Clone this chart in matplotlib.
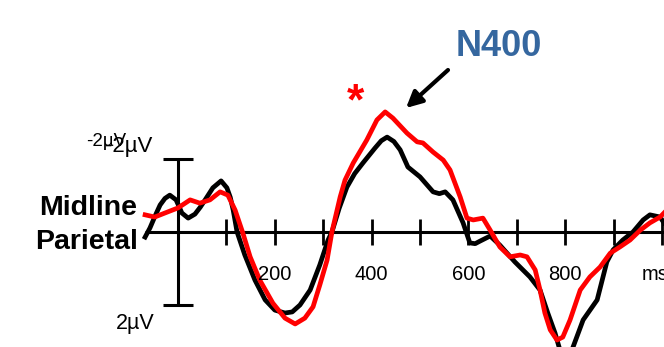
import numpy as np
import matplotlib.pyplot as plt

plt.rcParams['font.family'] = ['Liberation Sans', 'DejaVu Sans']

# ERP at midline parietal, time in ms, amplitude in microvolts (negative plotted up)
t_black = [-68, -58, -47, -37, -27, -17, -4, 8, 21, 35, 46, 56, 72, 89, 101, 108, 114,
           122, 138, 159, 180, 200, 221, 236, 252, 273, 293, 310, 318, 333, 349, 365,
           382, 407, 420, 432, 446, 459, 475, 500, 527, 540, 552, 568, 589, 603, 614,
           624, 645, 665, 696, 727, 748, 764, 779, 789, 800, 814, 837, 866, 886, 899,
           919, 940, 961, 975, 996, 1004]
v_black = [0.14, -0.11, -0.45, -0.74, -0.92, -1.01, -0.88, -0.52, -0.38, -0.49, -0.68,
           -0.88, -1.21, -1.40, -1.21, -0.95, -0.60, 0.0, 0.63, 1.32, 1.86, 2.14, 2.22,
           2.19, 2.00, 1.59, 0.90, 0.22, 0.0, -0.65, -1.23, -1.60, -1.89, -2.30, -2.50,
           -2.60, -2.48, -2.25, -1.78, -1.51, -1.10, -1.05, -1.10, -0.88, -0.25, 0.30,
           0.32, 0.25, 0.11, 0.36, 0.82, 1.23, 1.59, 2.22, 2.77, 3.23, 3.45, 3.23, 2.41,
           1.86, 0.82, 0.49, 0.22, 0.0, -0.33, -0.47, -0.41, -0.25]

t_red = [-68, -48, -27, 0, 25, 45, 66, 87, 103, 118, 134, 149, 169, 196, 221, 242,
         262, 279, 293, 308, 318, 335, 345, 362, 390, 411, 428, 444, 473, 494, 506,
         527, 548, 562, 583, 597, 610, 630, 645, 665, 686, 707, 721, 738, 748, 758,
         769, 783, 795, 810, 831, 851, 872, 893, 913, 934, 955, 975, 996, 1004]
v_red = [-0.47, -0.41, -0.52, -0.66, -0.88, -0.79, -0.88, -1.10, -1.01, -0.60, 0.03,
         0.68, 1.32, 1.95, 2.36, 2.52, 2.36, 2.05, 1.45, 0.77, 0.0, -0.96, -1.42,
         -1.89, -2.52, -3.07, -3.29, -3.12, -2.71, -2.47, -2.44, -2.19, -1.97, -1.70,
         -0.96, -0.38, -0.33, -0.38, -0.05, 0.41, 0.68, 0.63, 0.68, 1.04, 1.59, 2.22,
         2.68, 2.96, 2.88, 2.41, 1.59, 1.23, 0.96, 0.58, 0.41, 0.22, -0.05, -0.25,
         -0.41, -0.52]

tick_ms = [100, 200, 300, 400, 500, 600, 700, 800, 900, 1000]
label_ms = [200, 400, 600, 800]

W, H = 664, 347
fig = plt.figure(figsize=(W / 100, H / 100), dpi=100)
ax = fig.add_axes([0, 0, 1, 1])
ax.set_xlim(-367.8, 1004.1)
ax.set_ylim(3.151, -6.356)
ax.axis('off')


def fx(px):
    return px / W


def fy(py):
    return 1 - py / H


# axes: time line, ticks, amplitude scale bar
ax.plot([-68, 1004], [0, 0], color='black', lw=2.2, solid_capstyle='butt')
for tk in tick_ms:
    ax.plot([tk, tk], [-0.36, 0.36], color='black', lw=2.0, solid_capstyle='butt')
ax.plot([0, 0], [-2, 2], color='black', lw=2.2, solid_capstyle='butt')
for v in (-2, 2):
    ax.plot([-31, 31], [v, v], color='black', lw=2.2, solid_capstyle='butt')

ax.plot(t_black, v_black, color='black', lw=3.4, solid_joinstyle='round')
ax.plot(t_red, v_red, color='#ff0000', lw=3.4, solid_joinstyle='round')

for ms in label_ms:
    ax.text(ms, 1.17, str(ms), ha='center', va='center', fontsize=14.5)
ax.text(958, 1.17, 'ms', ha='left', va='center', fontsize=14.5)

fig.text(fx(86), fy(141), '-2\u00b5V', ha='left', va='center', fontsize=13.5)
fig.text(fx(105), fy(146), '-2\u00b5V', ha='left', va='center', fontsize=16)
fig.text(fx(116), fy(323), '2\u00b5V', ha='left', va='center', fontsize=15.5)

fig.text(fx(137), fy(208), 'Midline', ha='right', va='center', fontsize=20.5,
         fontweight='bold')
fig.text(fx(138), fy(242), 'Parietal', ha='right', va='center', fontsize=20.5,
         fontweight='bold')

fig.text(fx(499), fy(46), 'N400', ha='center', va='center', fontsize=26,
         fontweight='bold', color='#35679f')
fig.text(fx(355), fy(103), '*', ha='center', va='center', fontsize=32,
         fontweight='bold', color='#ff0000')
ax.annotate('', xy=(fx(406), fy(108)), xycoords='figure fraction',
            xytext=(fx(448), fy(70)), textcoords='figure fraction',
            arrowprops=dict(arrowstyle='-|>', color='black', lw=3,
                            mutation_scale=24, shrinkA=0, shrinkB=0))

fig.savefig('out.png', dpi=100)
